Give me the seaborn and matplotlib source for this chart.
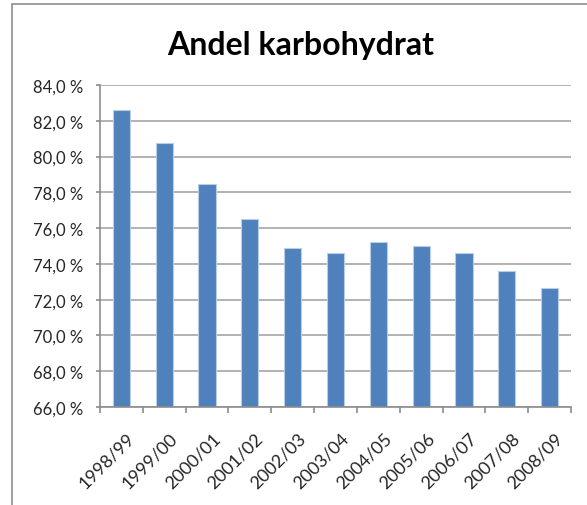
import matplotlib
matplotlib.use('Agg')
import matplotlib.pyplot as plt
import matplotlib.patches as mpatches
import matplotlib.transforms as mtransforms
from matplotlib.ticker import FuncFormatter, FixedLocator
import seaborn as sns
import pandas as pd

# ── Data ──────────────────────────────────────────────────────────────────
seasons = ['1998/99', '1999/00', '2000/01', '2001/02', '2002/03', '2003/04',
           '2004/05', '2005/06', '2006/07', '2007/08', '2008/09']
share_carbs = [82.6, 80.75, 78.45, 76.5, 74.9, 74.6,
               75.2, 75.0, 74.6, 73.6, 72.65]
y_ticks = [66, 68, 70, 72, 74, 76, 78, 80, 82, 84]

df = pd.DataFrame({'season': seasons, 'share': share_carbs})

# ── Plot ──────────────────────────────────────────────────────────────────
sns.set_theme(style='white')
plt.rcParams['font.family'] = ['Lato', 'DejaVu Sans']

fig = plt.figure(figsize=(5.87, 5.06), dpi=100)
ax = fig.add_axes([100 / 587, 1 - 408 / 506, 471 / 587, 322 / 506])

sns.barplot(data=df, x='season', y='share', color='#4F81BD', saturation=1,
            width=0.4, edgecolor='#B9CDE5', linewidth=0.8, ax=ax)

ax.set_ylim(66, 84)
ax.set_xlim(-0.5, len(seasons) - 0.5)
ax.yaxis.set_major_locator(FixedLocator(y_ticks))
ax.yaxis.set_major_formatter(FuncFormatter(lambda v, p: f'{v:.1f} %'.replace('.', ',')))
ax.grid(axis='y', color='#A6A6A6', linewidth=1.2)
ax.set_axisbelow(True)

for side in ['top', 'right']:
    ax.spines[side].set_visible(False)
for side in ['left', 'bottom']:
    ax.spines[side].set_color('#8C8C8C')
    ax.spines[side].set_linewidth(1.2)

# Excel style: tick marks between categories, labels centred on bars
ax.set_xticks([i - 0.5 for i in range(len(seasons) + 1)], minor=True)
ax.tick_params(axis='x', which='minor', length=4, width=1.2, color='#8C8C8C', direction='out', bottom=True)
ax.tick_params(axis='x', which='major', length=0, pad=14, labelsize=13)
ax.tick_params(axis='y', length=3, width=1.2, color='#8C8C8C', direction='out', left=True, pad=9, labelsize=12)
plt.setp(ax.get_xticklabels(), rotation=45, ha='right', rotation_mode='anchor')
shift = mtransforms.ScaledTranslation(5 / 100, -3 / 100, fig.dpi_scale_trans)
for lbl in ax.get_xticklabels():
    lbl.set_transform(lbl.get_transform() + shift)

ax.set_xlabel('')
ax.set_ylabel('')

fig.text(301 / 587, 1 - 45 / 506, 'Andel karbohydrat', ha='center', va='center',
         fontsize=23, fontweight='bold', color='black')

# chart frame
fig.patches.append(mpatches.Rectangle((12 / 587, -0.1), 1.2, 1 - 5 / 506 + 0.1,
                                      transform=fig.transFigure, fill=False,
                                      edgecolor='#8C8C8C', linewidth=1.2))

fig.savefig('out.png', dpi=100, facecolor='white')
